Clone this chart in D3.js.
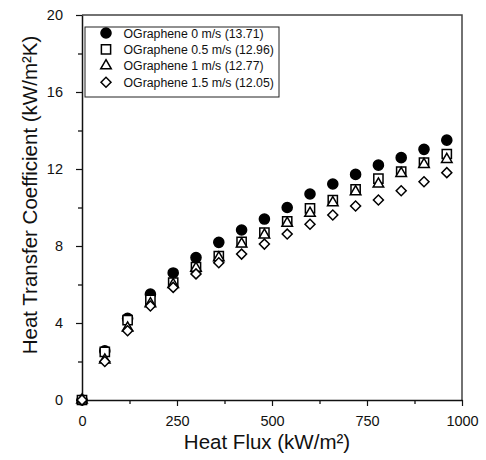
<!DOCTYPE html>
<html>
<head>
<meta charset="utf-8">
<script src="https://cdn.jsdelivr.net/npm/d3@7"></script>
<style>
  body { margin: 0; background: #fff; }
  text { font-family: "Liberation Sans", Arial, sans-serif; fill: #111; }
</style>
</head>
<body>
<script>
// heat transfer coefficient vs heat flux, four flow speeds

var heatFlux = [0, 60, 120, 180, 240, 300, 360, 420, 480, 540, 600, 660, 720, 780, 840, 900, 960];

var htc0   = [0, 2.55, 4.24, 5.5, 6.6, 7.4, 8.19, 8.83, 9.4, 10.0, 10.7, 11.22, 11.72, 12.2, 12.59, 13.02, 13.5];
var htc05  = [0, 2.5, 4.15, 5.2, 6.1, 6.9, 7.48, 8.22, 8.69, 9.28, 9.96, 10.39, 10.94, 11.5, 11.86, 12.33, 12.78];
var htc1   = [0, 2.08, 3.74, 5.0, 6.0, 6.85, 7.39, 8.1, 8.57, 9.18, 9.7, 10.25, 10.82, 11.22, 11.77, 12.24, 12.5];
var htc15  = [0, 2.0, 3.6, 4.88, 5.85, 6.55, 7.13, 7.58, 8.1, 8.62, 9.13, 9.61, 10.08, 10.39, 10.87, 11.34, 11.81];

var seriesNames = ["OGraphene 0 m/s (13.71)", "OGraphene 0.5 m/s (12.96)",
                   "OGraphene 1 m/s (12.77)", "OGraphene 1.5 m/s (12.05)"];

var xTicks = [0, 250, 500, 750, 1000];
var yTicks = [0, 4, 8, 12, 16, 20];

var margin = {top: 15, right: 24, bottom: 60, left: 82},
    width = 486 - margin.left - margin.right,
    height = 460 - margin.top - margin.bottom;

var svg = d3.select("body").append("svg")
    .attr("width", 486)
    .attr("height", 460);

var g = svg.append("g")
    .attr("transform", "translate(" + margin.left + "," + margin.top + ")");

var x = d3.scaleLinear().domain([0, 1000]).range([0, width]),
    y = d3.scaleLinear().domain([0, 20]).range([height, 0]);

// frame on top and right
g.append("path")
    .attr("d", "M0,0H" + width + "V" + height)
    .attr("fill", "none")
    .attr("stroke", "#444")
    .attr("stroke-width", 1.5);

// minor ticks
g.append("g")
    .attr("transform", "translate(0," + height + ")")
    .call(d3.axisBottom(x).tickValues([125, 375, 625, 875]).tickSize(4).tickFormat(""))
    .call(function(a) { a.select(".domain").remove(); a.selectAll("line").attr("stroke-width", 1.2); });

g.append("g")
    .call(d3.axisLeft(y).tickValues([2, 6, 10, 14, 18]).tickSize(4).tickFormat(""))
    .call(function(a) { a.select(".domain").remove(); a.selectAll("line").attr("stroke-width", 1.2); });

// major axes
var xAxis = g.append("g")
    .attr("transform", "translate(0," + height + ")")
    .call(d3.axisBottom(x).tickValues(xTicks).tickFormat(d3.format("d"))
      .tickSize(6).tickPadding(10).tickSizeOuter(0));

var yAxis = g.append("g")
    .call(d3.axisLeft(y).tickValues(yTicks).tickSize(6).tickPadding(13).tickSizeOuter(0));

[xAxis, yAxis].forEach(function(a) {
  a.select(".domain").attr("stroke", "#111").attr("stroke-width", 1.5);
  a.selectAll("line").attr("stroke", "#111").attr("stroke-width", 1.2);
  a.selectAll("text").style("font-size", "14.5px").style("font-family", "'Liberation Sans', Arial, sans-serif").attr("fill", "#111");
});

// axis titles
svg.append("text")
    .attr("x", 267)
    .attr("y", 449)
    .style("text-anchor", "middle")
    .style("font-size", "20.5px")
    .text("Heat Flux (kW/m²)");

svg.append("text")
    .attr("transform", "translate(37,195) rotate(-90)")
    .style("text-anchor", "middle")
    .style("font-size", "20.5px")
    .text("Heat Transfer Coefficient (kW/m²K)");

// marker shapes
var shapes = [
  {type: d3.symbolCircle, size: 80, fill: "#000", rot: 0},
  {type: d3.symbolSquare, size: 85, fill: "#fff", rot: 0},
  {type: d3.symbolTriangle, size: 48, fill: "#fff", rot: 0},
  {type: d3.symbolSquare, size: 50, fill: "#fff", rot: 45}
];

var allSeries = [htc0, htc05, htc1, htc15];

allSeries.forEach(function(vals, k) {
  var s = shapes[k];
  g.append("g").selectAll("path")
    .data(heatFlux.map(function(f, i) { return [f, vals[i]]; }))
    .enter().append("path")
      .attr("d", d3.symbol().type(s.type).size(s.size))
      .attr("transform", function(d) { return "translate(" + x(d[0]) + "," + y(d[1]) + ") rotate(" + s.rot + ")"; })
      .attr("fill", s.fill)
      .attr("stroke", "#000")
      .attr("stroke-width", 1.5);
});

// legend
var legend = svg.append("g").attr("transform", "translate(85,27)");
legend.append("rect")
    .attr("width", 194)
    .attr("height", 70)
    .attr("fill", "#fff")
    .attr("stroke", "#222")
    .attr("stroke-width", 1);

seriesNames.forEach(function(name, k) {
  var s = shapes[k];
  var row = legend.append("g").attr("transform", "translate(0," + (6 + k * 16.4) + ")");
  row.append("path")
    .attr("d", d3.symbol().type(s.type).size(s.size))
    .attr("transform", "translate(21,0) rotate(" + s.rot + ")")
    .attr("fill", s.fill)
    .attr("stroke", "#000")
    .attr("stroke-width", 1.5);
  row.append("text")
    .attr("x", 38.5)
    .attr("y", 4.5)
    .style("font-size", "12.3px")
    .text(name);
});
</script>
</body>
</html>
